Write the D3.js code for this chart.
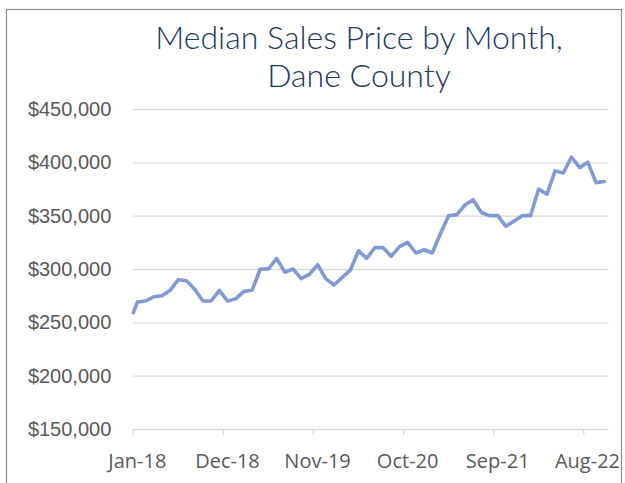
<!DOCTYPE html>
<html>
<head>
<meta charset="utf-8">
<script src="https://cdn.jsdelivr.net/npm/d3@7"></script>
<style>
  html, body { margin: 0; padding: 0; background: #fff; }
  svg { display: block; font-family: "Open Sans", "Noto Sans", sans-serif; }
</style>
</head>
<body>
<svg id="chart" width="625" height="483"></svg>
<script>
// Median sales price by month, Dane County (Jan-18 .. Oct-22)
const titleLines = ["Median Sales Price by Month,", "Dane County"];
const leadIn = 259000; // value drawn at the left edge of the plot
const prices = [
  269000, 270000, 274000, 275000, 280000, 290000, 289000, 281000, 270000, 270000, 280000, 270000,
  272000, 279000, 280000, 300000, 300000, 310000, 297000, 300000, 291000, 295000, 304000, 291000,
  285000, 292000, 299000, 317000, 310000, 320000, 320000, 312000, 321000, 325000, 315000, 318000,
  315000, 333000, 350000, 351000, 360000, 365000, 353000, 350000, 350000, 340000, 345000, 350000,
  350000, 375000, 370000, 392000, 390000, 405000, 395000, 400000, 381000, 382000
];
const yTicks = [150000, 200000, 250000, 300000, 350000, 400000, 450000];
const tickEvery = 11;

const months = d3.timeMonth.range(new Date(2018, 0, 1), new Date(2018, 0 + prices.length, 1));
const fmtMonth = d3.timeFormat("%b-%y");

const svg = d3.select('#chart');
const plot = { left: 133.3, right: 608.3, top: 109, bottom: 429 };

// chart border
svg.append('rect')
    .attr('x', 6.5).attr('y', 9.5)
    .attr('width', 615).attr('height', 490)
    .attr('fill', 'none')
    .attr('stroke', '#8c8c8c')
    .attr('stroke-width', 1.2);

const x = d3.scaleLinear()
    .domain([0, months.length])
    .range([plot.left, plot.right])
    .clamp(true);

const y = d3.scaleLinear()
    .domain([150000, 450000])
    .range([plot.bottom, plot.top]);

// gridlines + y labels
const yAxis = svg.append('g')
    .attr('transform', `translate(${plot.left},0)`)
    .call(d3.axisLeft(y)
        .tickValues(yTicks)
        .tickSize(-(plot.right - plot.left))
        .tickPadding(22)
        .tickFormat(d3.format('$,')));
yAxis.select('.domain').remove();
yAxis.selectAll('line').attr('stroke', '#d9d9d9').attr('stroke-width', 1.3);
yAxis.selectAll('text')
    .attr('fill', '#595959')
    .attr('font-size', '20px');

// x tick marks (category boundaries) and labels (category centres)
const tickIdx = d3.range(0, months.length, tickEvery);
svg.append('g')
    .selectAll('line')
    .data(tickIdx)
    .join('line')
    .attr('x1', d => x(d)).attr('x2', d => x(d))
    .attr('y1', plot.bottom).attr('y2', plot.bottom + 6)
    .attr('stroke', '#d9d9d9')
    .attr('stroke-width', 1.3);

const xLabels = svg.append('g')
    .selectAll('text')
    .data(tickIdx)
    .join('text')
    .text(d => fmtMonth(months[d]))
    .attr('x', d => x(d + 0.5))
    .attr('y', 468)
    .attr('text-anchor', 'middle')
    .attr('fill', '#595959')
    .attr('font-size', '20px');
// keep the last label inside the chart area
xLabels.each(function() {
    const bb = this.getBBox();
    if (bb.x + bb.width > 620) {
        d3.select(this).attr('x', +this.getAttribute('x') - (bb.x + bb.width - 620));
    }
});

// the line
const pts = [[x(-0.5), y(leadIn)]].concat(prices.map((v, i) => [x(i + 0.5), y(v)]));
svg.append('path')
    .datum(pts)
    .attr('d', d3.line())
    .attr('fill', 'none')
    .attr('stroke', '#7f9ad4')
    .attr('stroke-width', 3.6)
    .attr('stroke-linejoin', 'round')
    .attr('stroke-linecap', 'round');

// title (light weight, like the original)
svg.append('g')
    .selectAll('text')
    .data(titleLines)
    .join('text')
    .text(d => d)
    .attr('x', 359)
    .attr('y', (d, i) => 49 + i * 38)
    .attr('text-anchor', 'middle')
    .attr('fill', '#203864')
    .attr('font-family', 'Lato, "Open Sans", sans-serif')
    .attr('font-weight', 300)
    .attr('font-size', '32px');
</script>
</body>
</html>
